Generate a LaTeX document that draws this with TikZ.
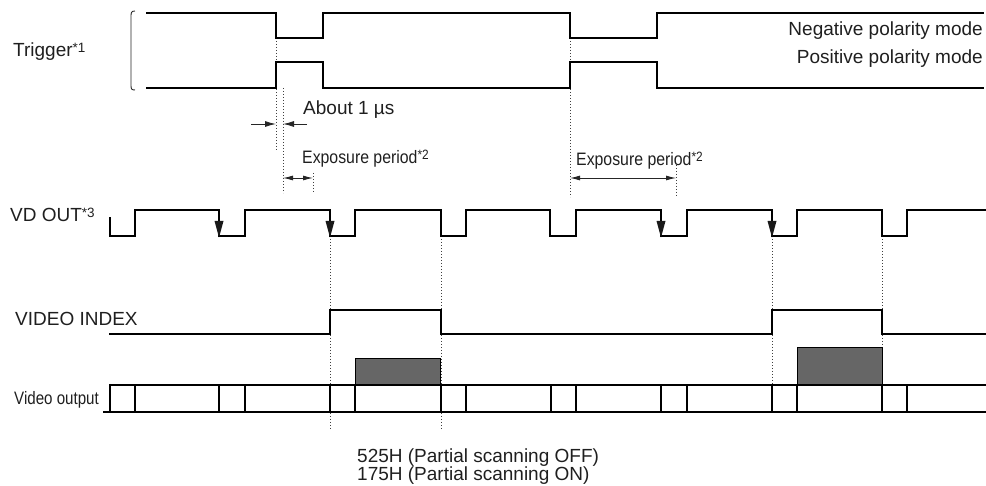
\documentclass[tikz,border=0pt]{standalone}
\usepackage{fontspec}
\setmainfont{Liberation Sans}
\newfontfamily\narrowfont[FakeStretch=0.88]{Liberation Sans}
\newfontfamily\narrowerfont[FakeStretch=0.84]{Liberation Sans}
\usetikzlibrary{arrows.meta}
\newcommand{\supx}[1]{\raisebox{4.5pt}{\fontsize{13.5}{13.5}\selectfont #1}}
\definecolor{boxgrey}{RGB}{102,102,102}
\begin{document}
\begin{tikzpicture}[x=1pt,y=-1pt,
  sig/.style={line width=2.3pt, line join=miter, line cap=rect, black},
  dotl/.style={line width=1pt, dash pattern=on 1pt off 2pt, black!75},
  thinl/.style={line width=0.9pt, black!85},
  arr/.style={line width=0.9pt, black!85, -{Latex[length=11pt,width=6pt]}},
  darr/.style={line width=0.9pt, black!85, {Latex[length=10pt,width=5pt]}-{Latex[length=10pt,width=5pt]}},
  lbl/.style={inner sep=0pt, font=\fontsize{19}{22}\selectfont, text=black!88},
  nlbl/.style={inner sep=0pt, font=\narrowfont\fontsize{18}{20}\selectfont, text=black!88},
  vlbl/.style={inner sep=0pt, font=\narrowerfont\fontsize{18}{20}\selectfont, text=black!88},
  vtip/.style={fill=black!90},
  band/.style={line width=2pt, black},
  sep/.style={line width=1.1pt, black}
]
\useasboundingbox (0,0) rectangle (986,486);

% ---------- labels ----------
\node[lbl, anchor=base west] (trig) at (13,57) {Trigger\supx{*1}};
\node[lbl, anchor=base east] (neg) at (983,36) {Negative polarity mode};
\node[lbl, anchor=base east] (pos) at (983,64) {Positive polarity mode};
\node[lbl, anchor=base west] (about) at (303,115) {About 1 µs};
\node[nlbl, anchor=base west] (exp1) at (302,164) {Exposure period\supx{*2}};
\node[nlbl, anchor=base west] (exp2) at (576,166) {Exposure period\supx{*2}};
\node[lbl, anchor=base west] (vd) at (10,222) {VD OUT\supx{*3}};
\node[lbl, anchor=base west] (vi) at (15,326) {VIDEO INDEX};
\node[vlbl, anchor=base west] (vo) at (14,405) {Video output};
\node[lbl, anchor=base west] (b1) at (357,462) {525H (Partial scanning OFF)};
\node[lbl, anchor=base west] (b2) at (357,480) {175H (Partial scanning ON)};

% ---------- brace ----------
\draw[thinl] (135,11) .. controls (131,11) and (131,13) .. (131,17) -- (131,84) .. controls (131,89) and (131,90) .. (135,90);

% ---------- dotted guides ----------
\draw[dotl] (276,38) -- (276,150);
\draw[dotl] (283,88) -- (283,193);
\draw[dotl] (313,173) -- (313,193);
\draw[dotl] (570,38) -- (570,197);
\draw[dotl] (676,165) -- (676,196);
\draw[dotl] (330,236) -- (330,430);
\draw[dotl] (441,236) -- (441,430);
\draw[dotl] (772,236) -- (772,385);
\draw[dotl] (882,236) -- (882,348);

% ---------- trigger ----------
\draw[sig] (147,13) -- (276,13) -- (276,38) -- (323,38) -- (323,13) -- (570,13) -- (570,38) -- (657,38) -- (657,13) -- (983,13);
\draw[sig] (147,88) -- (276,88) -- (276,62) -- (323,62) -- (323,88) -- (570,88) -- (570,62) -- (657,62) -- (657,88) -- (983,88);

% ---------- timing arrows ----------
\coordinate (a1s) at (251,124); \coordinate (a1e) at (276,124);
\coordinate (a2s) at (307,124); \coordinate (a2e) at (283,124);
\draw[arr] (a1s) -- (a1e);
\draw[arr] (a2s) -- (a2e);
\coordinate (e1a) at (283,178); \coordinate (e1b) at (313,178);
\coordinate (e2a) at (570,178); \coordinate (e2b) at (676,178);
\draw[darr] (e1a) -- (e1b);
\draw[darr] (e2a) -- (e2b);

% ---------- VD OUT ----------
\draw[sig] (110,218) -- (110,236) -- (135,236) -- (135,210) -- (219,210) -- (219,236) -- (245,236) -- (245,210) -- (330,210) -- (330,236) -- (355,236) -- (355,210) -- (441,210) -- (441,236) -- (466,236) -- (466,210) -- (550,210) -- (550,236) -- (576,236) -- (576,210) -- (661,210) -- (661,236) -- (687,236) -- (687,210) -- (772,210) -- (772,236) -- (797,236) -- (797,210) -- (882,210) -- (882,236) -- (907,236) -- (907,210) -- (986,210);
\foreach \x in {219,330,661,772}{
  \fill[vtip] (\x-4.5,221) -- (\x+4.5,221) -- (\x,237.5) -- cycle;
}

% ---------- VIDEO INDEX ----------
\draw[sig] (110,334) -- (330,334) -- (330,310) -- (441,310) -- (441,334) -- (772,334) -- (772,310) -- (882,310) -- (882,334) -- (986,334);

% ---------- video output ----------
\filldraw[fill=boxgrey, draw=black, line width=1pt] (355,359) rectangle (440,385);
\filldraw[fill=boxgrey, draw=black, line width=1pt] (797,348) rectangle (882,385);
\foreach \x in {135,219,245,330,355,441,466,551,576,661,687,772,797,882,907}{
  \draw[sep] (\x,385) -- (\x,412);
}
\draw[band] (109,385) -- (986,385);
\draw[band] (103,412) -- (986,412);
\draw[band] (110,384) -- (110,412);
\end{tikzpicture}
\end{document}
